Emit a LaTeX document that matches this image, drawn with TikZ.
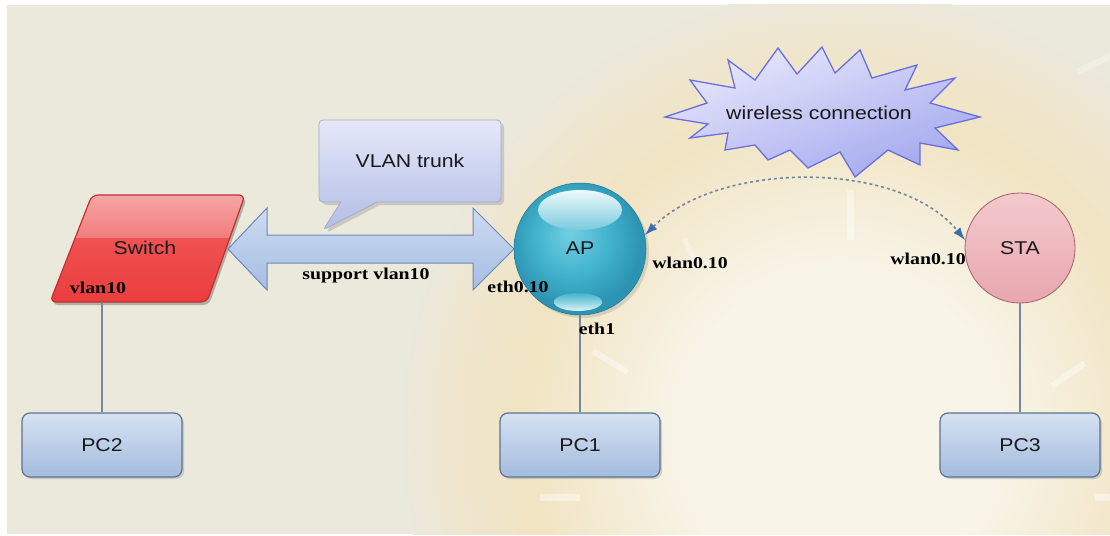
\documentclass[tikz,border=0pt]{standalone}
\usepackage{fontspec}
\usetikzlibrary{shapes.callouts,shadows,arrows.meta}
\newfontfamily\lsans[FakeStretch=1.15]{Liberation Sans}
\newfontfamily\lserif[FakeStretch=1.2]{Liberation Serif}
\definecolor{bg}{HTML}{EBE8DC}
\definecolor{warm}{HTML}{F1E4C3}
\definecolor{lightc}{HTML}{F8F4E8}
\definecolor{apc}{HTML}{72CFE2}
\definecolor{apm}{HTML}{42B3CE}
\definecolor{ape}{HTML}{2C94B2}
\definecolor{swt}{HTML}{F6AAAA}
\definecolor{swm}{HTML}{F27C7C}
\definecolor{swl}{HTML}{F05252}
\definecolor{swb}{HTML}{EA3A3A}
\definecolor{swedge}{HTML}{C03030}
\definecolor{pct}{HTML}{D4E1F1}
\definecolor{pcb}{HTML}{A4BCDE}
\definecolor{pcedge}{HTML}{5E7390}
\definecolor{linkc}{HTML}{7787A0}
\definecolor{arrt}{HTML}{CCDBF0}
\definecolor{arrb}{HTML}{A6BEE3}
\definecolor{arredge}{HTML}{6C88B8}
\definecolor{cot}{HTML}{E4E8F8}
\definecolor{cob}{HTML}{B3BDE6}
\definecolor{coedge}{HTML}{A4ACCC}
\definecolor{stt}{HTML}{F3CACE}
\definecolor{stb}{HTML}{E8A6AE}
\definecolor{stedge}{HTML}{A65E66}
\definecolor{sbt}{HTML}{E8E8FB}
\definecolor{sbb}{HTML}{A3A8EE}
\definecolor{sbedge}{HTML}{6A6EE0}
\definecolor{wlc}{HTML}{76869E}
\definecolor{wlh}{HTML}{3D6EA8}
\pgfdeclareradialshading{glow}{\pgfpoint{0bp}{0bp}}{color(0bp)=(lightc); color(9bp)=(lightc); color(18bp)=(warm); color(22bp)=(warm!60!bg); color(25bp)=(bg); color(50bp)=(bg)}
\pgfdeclareradialshading{apball}{\pgfpoint{-4bp}{6bp}}{color(0bp)=(apc); color(14bp)=(apm); color(25bp)=(ape); color(50bp)=(ape)}
\tikzset{
  lbl/.style={font=\lsans\fontsize{18.5}{20}\selectfont, text=black!90},
  ifc/.style={font=\lserif\bfseries\fontsize{16.5}{18}\selectfont, inner sep=0pt, text=black},
  pcbox/.style={rectangle, rounded corners=8pt, minimum width=160pt, minimum height=64pt,
    draw=pcedge, line width=1.2pt, top color=pct, bottom color=pcb,
    drop shadow={opacity=0.3, shadow xshift=2pt, shadow yshift=-2pt}, lbl},
  link/.style={draw=linkc, line width=1.3pt},
  wl/.style={draw=wlc, line width=1.6pt, dash pattern=on 3pt off 3pt,
    {Latex[length=13pt,width=9pt,color=wlh]}-{Latex[length=13pt,width=9pt,color=wlh]}},
  tick/.style={draw=white, opacity=0.42, line width=7pt}
}
\begin{document}
\begin{tikzpicture}[x=1pt,y=-1pt]
\useasboundingbox (0,0) rectangle (1110,535);
\fill[white] (0,0) rectangle (1110,535);
% background
\begin{scope}
  \clip (7,5) rectangle (1110,534);
  \fill[bg] (7,5) rectangle (1110,534);
  \shade[shading=glow] (840,430) circle (440);
  \draw[tick] (850,190) -- (850,240);
  \draw[tick] (540,497) -- (580,497);
  \draw[tick] (1095,497) -- (1112,497);
  \draw[tick, line width=6pt] (593,351) -- (627,372);
  \draw[tick, line width=6pt] (1052,386) -- (1085,363);
  \draw[tick, line width=5pt, opacity=0.3] (684,239) -- (700,268);
  \draw[tick, line width=6pt, opacity=0.3] (1077,72) -- (1112,55);
\end{scope}
% PCs
\node[pcbox] (pc2) at (102,445) {PC2};
\node[pcbox] (pc1) at (580,445) {PC1};
\node[pcbox] (pc3) at (1020,445) {PC3};
\coordinate (swb) at (102,302);
% switch
\fill[black, opacity=0.25, rounded corners=6pt] (94,198) -- (247,198) -- (209,305) -- (52,305) -- cycle;
\begin{scope}
  \clip[rounded corners=6pt] (92,195) -- (245,195) -- (207,302) -- (50,302) -- cycle;
  \shade[top color=swt, bottom color=swm] (40,190) rectangle (250,238);
  \shade[top color=swl, bottom color=swb] (40,238) rectangle (250,310);
\end{scope}
\draw[draw=swedge, line width=1.2pt, rounded corners=6pt] (92,195) -- (245,195) -- (207,302) -- (50,302) -- cycle;
\node[lbl] (sw) at (145,248) {Switch};
\node[ifc] (lvl) at (98,288) {vlan10};
\draw[link] (swb) -- (pc2.north);
% double arrow
\shade[top color=arrt, bottom color=arrb, draw=arredge, line width=1pt]
  (228,249) -- (267,208) -- (267,235) -- (473,235) -- (473,208) -- (514,249)
  -- (473,290) -- (473,263) -- (267,263) -- (267,290) -- cycle;
\node[ifc] (lsup) at (366,276) {support vlan10};
% callout
\node[rectangle callout, callout absolute pointer={(323,230)}, callout pointer width=36pt,
  minimum width=182pt, minimum height=82pt, top color=cot, bottom color=cob,
  draw=coedge, line width=0.8pt, rounded corners=4pt,
  drop shadow={opacity=0.3, shadow xshift=3pt, shadow yshift=-3pt}, lbl]
  (vt) at (410,161) {VLAN trunk};
% AP
\node[circle, minimum size=132pt, inner sep=0pt, shading=apball, draw=ape!80!black, line width=0.5pt,
  drop shadow={opacity=0.25, shadow xshift=3pt, shadow yshift=-3pt}] (ap) at (580,249) {};
\shade[top color=white!88!apc, bottom color=apm!70!white] (580,210) ellipse (42 and 20);
\shade[top color=apm, bottom color=white!75!apc] (578,302) ellipse (24 and 9);
\node[lbl] (apl) at (580,248) {AP};
\draw[link] (ap.south) -- (pc1.north);
\node[ifc] (leth0) at (518,287) {eth0.10};
\node[ifc] (leth1) at (597,329) {eth1};
\node[ifc] (lwap) at (690,263) {wlan0.10};
% STA
\node[circle, minimum size=110pt, inner sep=0pt, top color=stt, bottom color=stb, draw=stedge, line width=0.8pt, lbl] (sta) at (1020,248) {STA};
\draw[link] (sta.south) -- (pc3.north);
\node[ifc] (lwsta) at (928,259) {wlan0.10};
% starburst
\shade[top color=sbt, bottom color=sbb, shading angle=20, draw=sbedge, line width=1.3pt]
  (665,117) -- (707,103) -- (690,80) -- (735,88) -- (728,60) -- (755,80) -- (778,48)
  -- (797,74) -- (822,47) -- (835,73) -- (860,50) -- (872,78) -- (917,65) -- (905,90)
  -- (955,78) -- (930,103) -- (980,117) -- (935,128) -- (958,150) -- (920,143)
  -- (920,165) -- (888,150) -- (855,177) -- (840,152) -- (808,168) -- (790,150)
  -- (768,160) -- (755,145) -- (725,150) -- (728,133) -- (690,138) -- (708,124) -- cycle;
\node[lbl] (wc) at (819,113) {wireless connection};
% wireless link
\draw[wl] (ap.12) .. controls (720,160) and (900,160) .. (sta.172);
\end{tikzpicture}
\end{document}
